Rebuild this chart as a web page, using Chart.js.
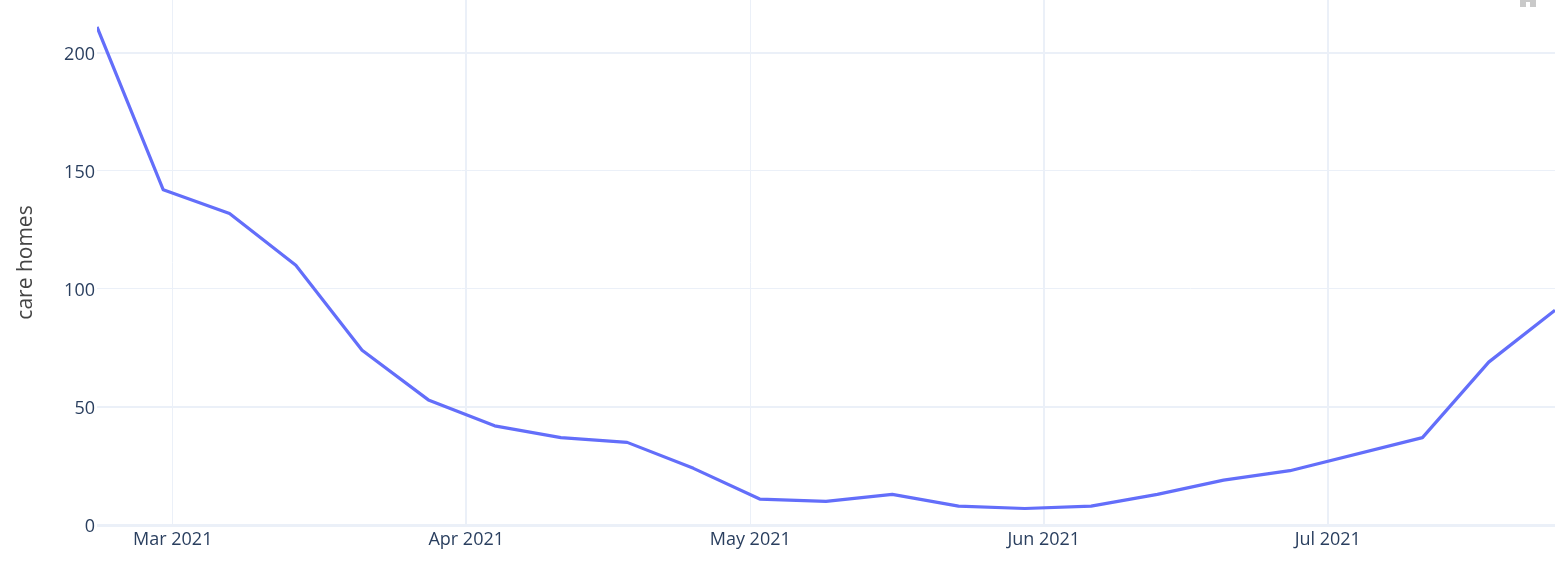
<!DOCTYPE html>
<html>
<head>
<meta charset="utf-8">
<title>care homes</title>
<script src="https://cdn.jsdelivr.net/npm/chart.js@4"></script>
<style>
html, body { margin: 0; padding: 0; background: #fff; overflow: hidden; }
#wrap { position: relative; width: 1567px; height: 562px; }
/* modebar icon cut off by the top of the window */
#modebar { position: absolute; left: 1520px; top: 0; width: 16px; height: 7px; background: #c9c9c9; }
#modebar i { position: absolute; left: 6px; top: 2px; width: 4px; height: 5px; background: #fff; }
</style>
</head>
<body>
<div id="wrap">
  <canvas id="graph" width="1567" height="562"></canvas>
  <div id="modebar"><i></i></div>
</div>
<script>
// weekly counts, the week of 4 Jul is not in the source line
const weeks = ['2021-02-21','2021-02-28','2021-03-07','2021-03-14','2021-03-21','2021-03-28','2021-04-04',
  '2021-04-11','2021-04-18','2021-04-25','2021-05-02','2021-05-09','2021-05-16','2021-05-23','2021-05-30',
  '2021-06-06','2021-06-13','2021-06-20','2021-06-27','2021-07-11','2021-07-18','2021-07-25'];
const careHomes = [211,142,132,110,74,53,42,37,35,24,11,10,13,8,7,8,13,19,23,37,69,91];

const monthTicks = ['2021-03-01','2021-04-01','2021-05-01','2021-06-01','2021-07-01'];
const monthLabels = ['Mar 2021','Apr 2021','May 2021','Jun 2021','Jul 2021'];
const monthGridWidths = [1,2,1,2,2];

const valueTicks = [0,50,100,150,200];
const valueGridWidths = [3,2,1,1,2];
const yMax = 222.4;

const gridColor = '#EBF0F8';
const textColor = '#2a3f5f';

function toMs(d) { return Date.parse(d + 'T00:00:00Z'); }

var g = document.getElementById('graph').getContext('2d');

var graph = new Chart(g, {
  type: 'line',
  data: {
    datasets: [{
      label: 'care homes',
      data: weeks.map((w, i) => ({ x: toMs(w), y: careHomes[i] })),
      borderColor: '#636EFA',
      borderWidth: 3.2,
      pointRadius: 0,
      tension: 0,
      borderJoinStyle: 'round'
    }]
  },
  options: {
    responsive: false,
    animation: false,
    layout: { padding: { top: 0, right: 12, bottom: 0, left: 0 } },
    plugins: { legend: { display: false }, tooltip: { enabled: false } },
    scales: {
      x: {
        type: 'linear',
        min: toMs(weeks[0]),
        max: toMs(weeks[weeks.length - 1]),
        afterBuildTicks: a => { a.ticks = monthTicks.map(d => ({ value: toMs(d) })); },
        afterFit: a => { a.height = 37; a.paddingLeft = 0; a.paddingRight = 0; },
        border: { display: false },
        grid: {
          color: gridColor,
          drawTicks: false,
          lineWidth: c => monthGridWidths[c.index]
        },
        ticks: {
          autoSkip: false,
          maxRotation: 0,
          padding: 4,
          color: textColor,
          font: { family: '"Open Sans"', size: 18 },
          callback: (v, i) => monthLabels[i]
        }
      },
      y: {
        min: 0,
        max: yMax,
        afterBuildTicks: a => { a.ticks = valueTicks.map(v => ({ value: v })); },
        afterFit: a => { a.width = 97; a.paddingTop = 0; a.paddingBottom = 0; },
        border: { display: false },
        grid: {
          color: gridColor,
          drawTicks: false,
          lineWidth: c => valueGridWidths[c.index]
        },
        title: {
          display: true,
          text: 'care homes',
          color: '#444',
          font: { family: '"Open Sans"', size: 21 },
          padding: { top: 13, bottom: 0 }
        },
        ticks: {
          padding: 2,
          labelOffset: 2,
          color: textColor,
          font: { family: '"Open Sans"', size: 18 }
        }
      }
    }
  }
});
</script>
</body>
</html>
